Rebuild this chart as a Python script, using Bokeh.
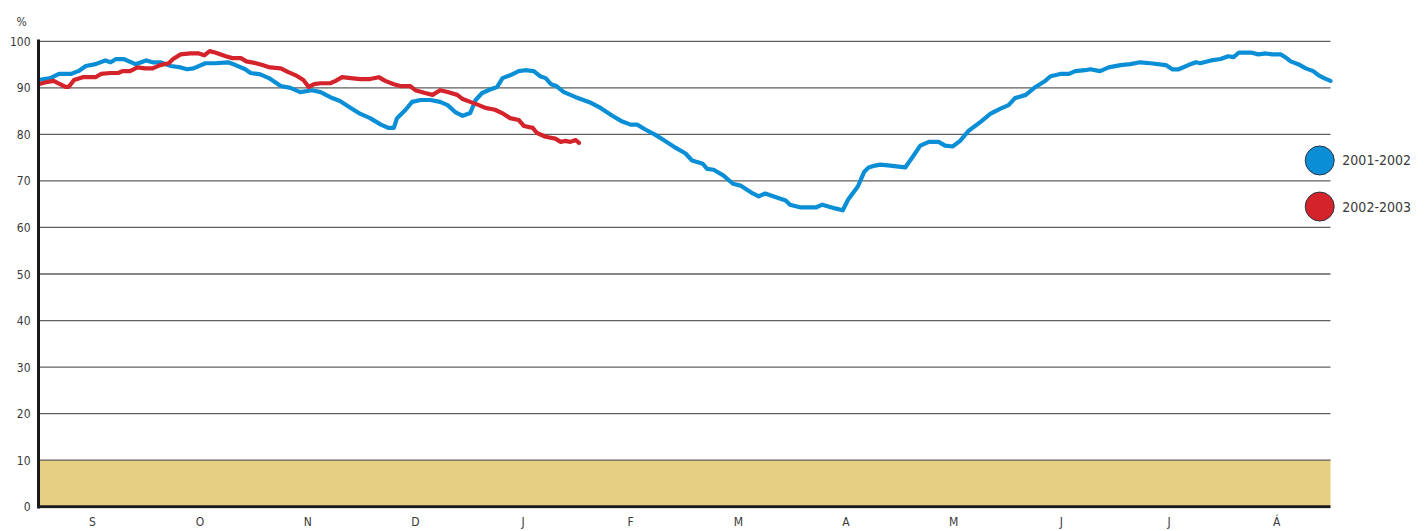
import numpy as np
from bokeh.plotting import figure
from bokeh.models import FixedTicker, Label, Range1d
from bokeh.embed import file_html
from bokeh.resources import INLINE

# x positions are fractional months from 1 September (0 = start of S, 12 = end of Á)
months = ["S", "O", "N", "D", "J", "F", "M", "A", "M", "J", "J", "Á"]
y_ticks = [0, 10, 20, 30, 40, 50, 60, 70, 80, 90, 100]

blue_x = [0.00, 0.11, 0.19, 0.30, 0.37, 0.44, 0.53, 0.62, 0.67, 0.72, 0.79, 0.90, 1.00, 1.06, 1.13,
          1.23, 1.32, 1.38, 1.44, 1.55, 1.64, 1.76, 1.83, 1.92, 1.97, 2.06, 2.14, 2.25, 2.34, 2.43,
          2.54, 2.62, 2.71, 2.80, 2.90, 2.99, 3.08, 3.18, 3.25, 3.30, 3.33, 3.41, 3.47, 3.55, 3.64,
          3.73, 3.80, 3.87, 3.94, 4.01, 4.06, 4.12, 4.20, 4.26, 4.31, 4.38, 4.46, 4.52, 4.60, 4.66,
          4.71, 4.76, 4.81, 4.88, 4.99, 5.13, 5.22, 5.33, 5.41, 5.50, 5.56, 5.64, 5.73, 5.82, 5.92,
          6.01, 6.07, 6.17, 6.21, 6.27, 6.36, 6.45, 6.52, 6.62, 6.69, 6.75, 6.85, 6.94, 6.98, 7.08,
          7.22, 7.28, 7.40, 7.47, 7.52, 7.61, 7.67, 7.71, 7.77, 7.82, 7.91, 8.05, 8.12, 8.19, 8.27,
          8.36, 8.42, 8.49, 8.56, 8.64, 8.75, 8.84, 8.93, 9.01, 9.07, 9.17, 9.26, 9.35, 9.40, 9.49,
          9.57, 9.63, 9.72, 9.77, 9.86, 9.94, 10.05, 10.14, 10.23, 10.33, 10.47, 10.53, 10.59, 10.68,
          10.75, 10.79, 10.89, 10.98, 11.05, 11.10, 11.15, 11.26, 11.33, 11.40, 11.46, 11.54, 11.58,
          11.63, 11.70, 11.77, 11.84, 11.89, 11.94, 12.00]
blue_y = [91.7, 92.1, 93.0, 93.0, 93.6, 94.7, 95.1, 95.9, 95.5, 96.2, 96.2, 95.1, 95.9, 95.5, 95.5,
          94.7, 94.4, 94.0, 94.2, 95.3, 95.3, 95.5, 94.9, 94.0, 93.2, 92.9, 92.1, 90.4, 90.0, 89.1,
          89.5, 89.1, 88.0, 87.2, 85.7, 84.4, 83.5, 82.1, 81.4, 81.4, 83.5, 85.3, 87.0, 87.4, 87.4,
          87.0, 86.3, 84.8, 84.0, 84.6, 87.4, 88.9, 89.7, 90.2, 92.1, 92.7, 93.6, 93.8, 93.6, 92.5,
          92.1, 90.8, 90.4, 89.1, 88.0, 86.8, 85.7, 84.0, 82.9, 82.1, 82.1, 81.0, 79.9, 78.6, 77.1,
          75.9, 74.4, 73.7, 72.6, 72.4, 71.2, 69.4, 69.0, 67.5, 66.7, 67.3, 66.5, 65.8, 64.9, 64.3,
          64.3, 64.9, 64.1, 63.7, 66.0, 68.8, 72.0, 72.9, 73.3, 73.5, 73.3, 72.9, 75.2, 77.6, 78.4,
          78.4, 77.6, 77.4, 78.6, 80.8, 82.7, 84.4, 85.5, 86.3, 87.8, 88.5, 90.2, 91.5, 92.5, 93.0,
          93.0, 93.6, 93.8, 94.0, 93.6, 94.4, 94.9, 95.1, 95.5, 95.3, 94.9, 94.0, 94.0, 94.9,
          95.5, 95.3, 95.9, 96.2, 96.8, 96.6, 97.6, 97.6, 97.2, 97.4, 97.2, 97.2, 96.6,
          95.7, 95.1, 94.2, 93.6, 92.7, 92.1, 91.5]

red_x = [0.00, 0.07, 0.14, 0.20, 0.25, 0.28, 0.33, 0.41, 0.53, 0.58, 0.67, 0.74, 0.78, 0.85, 0.92,
         0.99, 1.06, 1.13, 1.21, 1.25, 1.32, 1.41, 1.49, 1.54, 1.59, 1.64, 1.74, 1.80, 1.88, 1.93,
         2.02, 2.08, 2.15, 2.25, 2.32, 2.39, 2.46, 2.51, 2.56, 2.62, 2.71, 2.76, 2.82, 2.90, 2.99,
         3.08, 3.16, 3.22, 3.30, 3.36, 3.45, 3.50, 3.59, 3.66, 3.73, 3.80, 3.89, 3.94, 4.01, 4.09,
         4.15, 4.24, 4.32, 4.38, 4.46, 4.51, 4.59, 4.63, 4.71, 4.80, 4.85, 4.89, 4.94, 4.99, 5.02]
red_y = [90.8, 91.2, 91.5, 90.8, 90.2, 90.2, 91.7, 92.3, 92.3, 93.0, 93.2, 93.2, 93.6, 93.6, 94.4,
         94.2, 94.2, 94.9, 95.3, 96.2, 97.2, 97.4, 97.4, 97.0, 97.9, 97.6, 96.8, 96.4, 96.4, 95.7,
         95.3, 94.9, 94.4, 94.2, 93.4, 92.7, 91.7, 90.2, 90.8, 91.0, 91.0, 91.5, 92.3, 92.1, 91.9,
         91.9, 92.3, 91.5, 90.8, 90.4, 90.4, 89.5, 88.9, 88.5, 89.5, 89.1, 88.5, 87.6, 87.0, 86.3,
         85.7, 85.3, 84.4, 83.5, 83.1, 81.8, 81.4, 80.3, 79.5, 79.1, 78.4, 78.6, 78.4, 78.8, 78.2]

series_names = ["2001-2002", "2002-2003"]
band_low, band_high = 0, 10

BLUE = "#0A8FD6"
RED = "#D4232B"
FONT = "DejaVu Sans Condensed"
TXT = "#3a3a3a"

# frame: x 0..12 spans 38..1330 px; extra room right of 12 holds the legend
px_per_month = (1330 - 38) / 12.0
x_end = 12 + (1420 - 1330) / px_per_month

p = figure(width=1424, height=531, output_backend="svg", toolbar_location=None,
           x_range=Range1d(0, x_end), y_range=Range1d(-0.4, 100.4),
           min_border_left=38, min_border_right=4, min_border_top=39, min_border_bottom=20)
p.outline_line_color = None
p.background_fill_color = "white"
p.border_fill_color = "white"
p.xgrid.grid_line_color = None
p.ygrid.grid_line_color = None

# band 0-10
p.quad(left=[0], right=[12], bottom=[band_low], top=[band_high],
       fill_color="#E6CF80", line_color=None)

# horizontal grid lines (stop at end of August)
grid_y = y_ticks[1:]
p.segment(x0=[0] * len(grid_y), x1=[12] * len(grid_y), y0=grid_y, y1=grid_y,
          line_color="#5f5f5f", line_width=1.3)
# bottom axis line (ends at end of August)
p.segment(x0=[0], x1=[12], y0=[0], y1=[0], line_color="#1a1a1a", line_width=3)

# axes
p.yaxis.ticker = FixedTicker(ticks=y_ticks)
p.yaxis.axis_line_color = "#1a1a1a"
p.yaxis.axis_line_width = 3
p.yaxis.major_tick_line_color = None
p.yaxis.minor_tick_line_color = None
p.yaxis.major_tick_out = 0
p.yaxis.major_tick_in = 0
p.yaxis.major_label_text_font = FONT
p.yaxis.major_label_text_font_size = "12px"
p.yaxis.major_label_text_color = TXT
p.yaxis.major_label_standoff = 8

p.xaxis.ticker = FixedTicker(ticks=[i + 0.5 for i in range(12)])
p.xaxis.major_label_overrides = {i + 0.5: m for i, m in enumerate(months)}
p.xaxis.axis_line_color = None
p.xaxis.major_tick_line_color = None
p.xaxis.minor_tick_line_color = None
p.xaxis.major_tick_out = 0
p.xaxis.major_tick_in = 0
p.xaxis.major_label_text_font = FONT
p.xaxis.major_label_text_font_size = "12px"
p.xaxis.major_label_text_color = TXT
p.xaxis.major_label_standoff = 6

# "%" unit label
p.title.text = "%"
p.title.align = "left"
p.title.offset = -22
p.title.standoff = 21
p.title.text_font = FONT
p.title.text_font_size = "12px"
p.title.text_font_style = "normal"
p.title.text_color = TXT

# data lines
p.line(blue_x, blue_y, line_color=BLUE, line_width=4.2, line_join="round", line_cap="round")
p.line(red_x, red_y, line_color=RED, line_width=4.2, line_join="round", line_cap="round")

# legend
leg_x = [11.90, 11.90]
leg_y = [74.4, 64.5]
p.scatter(leg_x, leg_y, size=29, marker="circle", fill_color=[BLUE, RED],
          line_color="#2a3440", line_width=1)
for cy, name in zip(leg_y, series_names):
    p.add_layout(Label(x=12.11, y=cy, text=name, text_font=FONT, text_font_size="14px",
                       text_color=TXT, text_align="left", text_baseline="middle"))

open("out.html", "w").write(file_html(p, INLINE))
